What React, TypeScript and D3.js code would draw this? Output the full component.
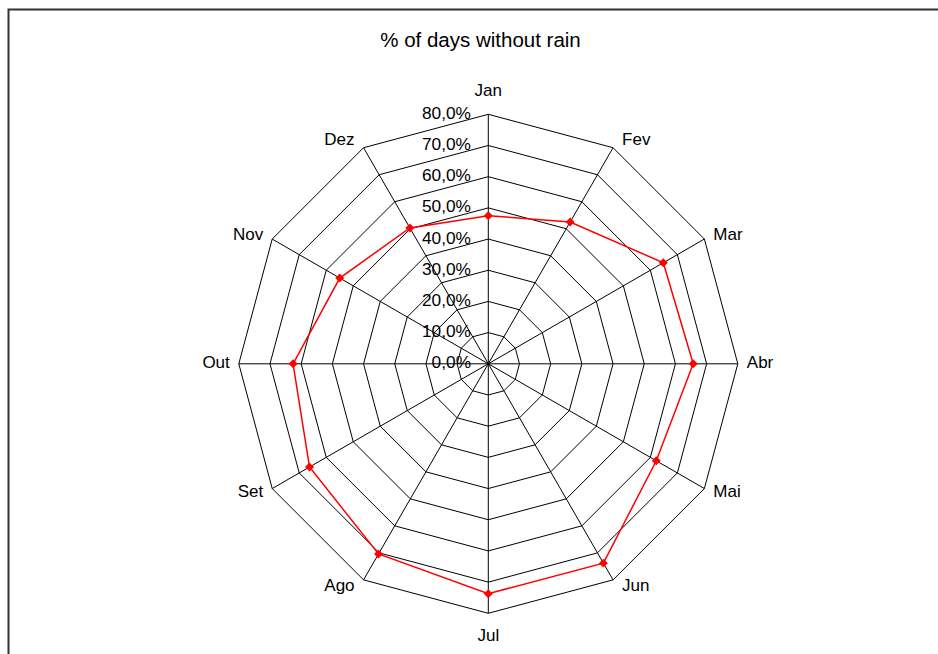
import React from "react";
import * as d3 from "d3";

const title = "% of days without rain";
const months = ["Jan", "Fev", "Mar", "Abr", "Mai", "Jun", "Jul", "Ago", "Set", "Out", "Nov", "Dez"];
const values = [47.5, 52.5, 64.8, 65.7, 62.2, 73.8, 73.7, 70.4, 66.2, 62.6, 55.0, 50.3];
const ticks = [0, 10, 20, 30, 40, 50, 60, 70, 80];

const W = 938;
const H = 654;
const cx = 488.3;
const cy = 363.8;
const R = 249.5;

export default function App() {
  const r = d3.scaleLinear().domain([0, 80]).range([0, R]);
  const angle = d3
    .scaleLinear()
    .domain([0, months.length])
    .range([0, 2 * Math.PI]);
  const pt = (i: number, v: number): [number, number] => {
    const a = angle(i);
    return [cx + r(v) * Math.sin(a), cy - r(v) * Math.cos(a)];
  };
  const closed = d3.line().curve(d3.curveLinearClosed);
  const fmt = (t: number) => t.toFixed(1).replace(".", ",") + "%";
  const diamond = d3.symbol().type(d3.symbolSquare).size(40)();

  return (
    <svg
      width={W}
      height={H}
      style={{ position: "absolute", left: 0, top: 0, background: "#fff" }}
      fontFamily="'Liberation Sans', Arial, sans-serif"
    >
      <rect x={8.5} y={9.5} width={1200} height={1200} fill="#fff" stroke="#333" strokeWidth={2} />
      <text x={480.5} y={42} textAnchor="middle" dominantBaseline="middle" fontSize={20.5}>
        {title}
      </text>
      {ticks.slice(1).map((t) => (
        <path
          key={"ring" + t}
          d={closed(months.map((_, i) => pt(i, t))) || ""}
          fill="none"
          stroke="#000"
          strokeWidth={1}
        />
      ))}
      {months.map((m, i) => {
        const [x, y] = pt(i, 80);
        return <line key={"sp" + m} x1={cx} y1={cy} x2={x} y2={y} stroke="#000" strokeWidth={1} />;
      })}
      {ticks.map((t) => (
        <text
          key={"tk" + t}
          x={471}
          y={cy - r(t)}
          textAnchor="end"
          dominantBaseline="middle"
          fontSize={17.3}
          fill="#000"
        >
          {fmt(t)}
        </text>
      ))}
      <path
        d={closed(values.map((v, i) => pt(i, v))) || ""}
        fill="none"
        stroke="#ff0000"
        strokeWidth={1.5}
      />
      {values.map((v, i) => {
        const [x, y] = pt(i, v);
        return (
          <path
            key={"mk" + i}
            d={diamond || ""}
            transform={`translate(${x},${y}) rotate(45)`}
            fill="#ff0000"
          />
        );
      })}
      {months.map((m, i) => {
        const a = angle(i);
        const [x, y] = pt(i, 80);
        const s = Math.sin(a);
        const c = Math.cos(a);
        let dx = 0;
        let dy = 0;
        let anchor = "middle";
        if (Math.abs(s) < 0.01) {
          dy = -c * 23;
        } else {
          dx = Math.sign(s) * 9;
          dy = -c * 8;
          anchor = s > 0 ? "start" : "end";
        }
        return (
          <text
            key={"lb" + m}
            x={x + dx}
            y={y + dy}
            textAnchor={anchor}
            dominantBaseline="middle"
            fontSize={17}
            fill="#000"
          >
            {m}
          </text>
        );
      })}
    </svg>
  );
}
